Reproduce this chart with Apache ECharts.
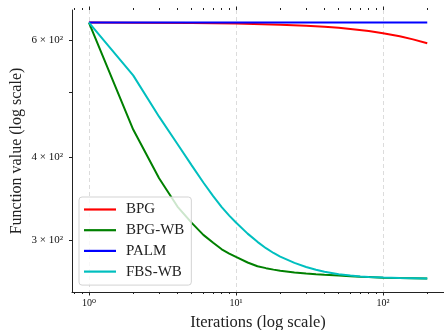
<!DOCTYPE html>
<html>
<head>
<meta charset="utf-8">
<script src="https://cdn.jsdelivr.net/npm/echarts@6/dist/echarts.min.js"></script>
<style>html,body{margin:0;padding:0;background:#fff;}#c{width:444px;height:330px;}</style>
</head>
<body>
<div id="c"></div>
<script>
const iterations = [1,2,3,4,5,6,7,8,9,10,12,14,16,18,20,25,30,35,40,50,60,70,80,100,130,160,200];
const bpgWB = [637.5,440.0,371.7,336.9,318.3,305.4,297.1,290.5,286.2,282.9,277.5,273.9,272.1,270.7,269.6,268.0,267.0,266.4,265.9,265.2,264.6,264.1,263.8,263.3,262.9,262.7,262.4];
const fbsWB = [637.5,530.9,460.1,418.4,388.6,366.2,349.3,336.3,326.5,318.7,306.7,298.1,291.6,286.8,283.2,277.1,273.2,270.6,268.7,266.5,265.2,264.4,263.9,263.4,262.9,262.7,262.4];
const bpgIterations = [1,2,5,10,20,30,40,50,60,80,100,130,160,200];
const bpg = [637.5,637.3,636.7,635.4,633.0,630.8,628.4,626.0,623.7,619.2,614.5,608.0,601.5,593.5];
const palmIterations = [1,10,100,200];
const palm = [638,638,638,638];
const xMajorTicks = [1,10,100];
const xMinorTicks = [0.8,0.9,2,3,4,5,6,7,8,9,20,30,40,50,60,70,80,90,200];
const yLabelTicks = [300,400,600];
const yAllTicks = [300,400,500,600];
const supers = {'0':'\u2070','1':'\u00B9','2':'\u00B2'};

const zip = (xs, ys) => xs.map((x, i) => [x, ys[i]]);
const serif = '"Liberation Serif", "DejaVu Serif", serif';
const axisCol = '#222';
const xMin = 0.767, xMax = 260;

function xAxisBase(pos, ticks, len, labels) {
  return {
    type: 'log', logBase: 10, min: xMin, max: xMax, gridIndex: 0, position: pos,
    axisLine: {show: pos === 'bottom' && labels, lineStyle: {color: axisCol, width: 1}},
    axisTick: {show: true, inside: false, length: len, customValues: ticks, lineStyle: {color: axisCol, width: 1}},
    axisLabel: labels ? {
      show: true, customValues: xMajorTicks, margin: 6, color: '#111', fontFamily: serif, fontSize: 10,
      formatter: v => '10' + supers[String(Math.round(Math.log10(v)))]
    } : {show: false},
    splitLine: labels ? {show: true, lineStyle: {color: '#dcdcdc', type: [4, 3], width: 1}} : {show: false},
    minorTick: {show: false}, minorSplitLine: {show: false}
  };
}

const chart = echarts.init(document.getElementById('c'), null, {renderer: 'canvas'});
chart.setOption({
  animation: false,
  backgroundColor: '#fff',
  grid: {left: 72, right: 0, top: 10, bottom: 38, containLabel: false, outerBoundsMode: 'none'},
  xAxis: [
    Object.assign(xAxisBase('bottom', xMajorTicks, 3.5, true), {
      name: 'Iterations (log scale)', nameLocation: 'middle', nameGap: 22,
      nameTextStyle: {fontFamily: serif, fontSize: 16.5, color: '#222'}
    }),
    xAxisBase('bottom', xMinorTicks, 2, false),
    xAxisBase('top', xMajorTicks, 3.5, false),
    xAxisBase('top', xMinorTicks, 2, false)
  ],
  yAxis: {
    type: 'log', logBase: 10, min: 250.5, max: 666,
    name: 'Function value (log scale)', nameLocation: 'middle', nameGap: 47, nameMoveOverlap: false,
    nameTextStyle: {fontFamily: serif, fontSize: 16, color: '#222'},
    axisLine: {show: true, lineStyle: {color: axisCol, width: 1}},
    axisTick: {show: true, length: 3, customValues: yAllTicks, lineStyle: {color: axisCol}},
    axisLabel: {
      show: true, customValues: yLabelTicks, margin: 9, color: '#111', fontFamily: serif, fontSize: 11,
      formatter: v => Math.round(v / 100) + ' \u00D7 10\u00B2'
    },
    splitLine: {show: false}, minorTick: {show: false}
  },
  legend: {
    orient: 'vertical', left: 79, top: 197, icon: 'rect',
    padding: [5, 7, 6, 5], itemGap: 5.7, itemWidth: 32, itemHeight: 2.2,
    backgroundColor: 'rgba(255,255,255,0.8)', borderColor: '#d3d3d3', borderWidth: 1, borderRadius: 3,
    textStyle: {fontFamily: serif, fontSize: 15, color: '#222', lineHeight: 15, padding: [0, 0, 0, 5]},
    data: ['BPG', 'BPG-WB', 'PALM', 'FBS-WB']
  },
  series: [
    {name: 'BPG', type: 'line', data: zip(bpgIterations, bpg), color: '#ff0000'},
    {name: 'BPG-WB', type: 'line', data: zip(iterations, bpgWB), color: '#008000'},
    {name: 'PALM', type: 'line', data: zip(palmIterations, palm), color: '#0000ff'},
    {name: 'FBS-WB', type: 'line', data: zip(iterations, fbsWB), color: '#00bfbf'}
  ].map(s => Object.assign(s, {
    xAxisIndex: 0, yAxisIndex: 0, symbol: 'none', showSymbol: false, smooth: false,
    lineStyle: {width: 2, color: s.color}, itemStyle: {color: s.color}
  }))
});
</script>
</body>
</html>
